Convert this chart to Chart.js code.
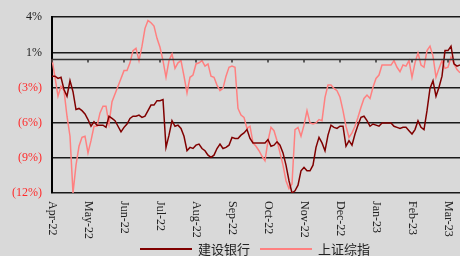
<!DOCTYPE html>
<html>
<head>
<meta charset="utf-8">
<script src="https://cdn.jsdelivr.net/npm/chart.js@4.4.1/dist/chart.umd.min.js"></script>
<style>
    html, body { margin: 0; padding: 0; background: #d9d9d9; }
    #wrap { width: 460px; height: 256px; position: relative; }
</style>
</head>
<body>
<div id="wrap"><canvas id="chart"></canvas></div>
<script>
// month labels, one every 12 points
const monthLabels = ['Apr-22', 'May-22', 'Jun-22', 'Jul-22', 'Aug-22', 'Sep-22', 'Oct-22', 'Nov-22', 'Dec-22', 'Jan-23', 'Feb-23', 'Mar-23'];
const pointsPerMonth = 12;

const seriesNames = ['建设银行', '上证综指'];

// 建设银行, % change
const ccbValues = [
    -1.5, -1.5, -1.7, -1.6, -2.7, -3.3, -1.9, -2.9, -4.5, -4.4, -4.6, -4.9,
    -5.4, -6.0, -5.6, -5.9, -5.9, -5.9, -6.1, -5.1, -5.3, -5.5, -6.0, -6.5,
    -6.1, -5.8, -5.3, -5.1, -5.1, -5.0, -5.2, -5.1, -4.6, -4.1, -4.1, -3.7,
    -3.7, -3.6, -7.9, -6.8, -5.5, -6.0, -5.9, -6.2, -6.9, -8.2, -7.9, -8.0,
    -7.7, -7.6, -8.0, -8.2, -8.6, -8.8, -8.6, -8.0, -7.6, -8.0, -7.9, -7.7,
    -7.0, -7.1, -7.1, -6.8, -6.6, -6.3, -7.1, -7.5, -7.5, -7.5, -7.5, -7.5,
    -7.2, -7.8, -7.7, -7.4, -7.7, -8.4, -9.5, -10.9, -12.0, -11.8, -11.3, -10.0,
    -9.7, -10.0, -10.0, -9.5, -7.9, -7.0, -7.5, -8.2, -6.8, -5.9, -6.1, -6.2,
    -6.0, -6.0, -7.8, -7.3, -7.7, -6.7, -5.9, -5.2, -5.1, -5.5, -6.0, -5.8,
    -5.9, -6.0, -5.7, -5.7, -5.7, -5.7, -6.0, -6.1, -6.2, -6.1, -6.1, -6.4,
    -6.7, -6.3, -5.5, -6.1, -6.3, -4.6, -2.6, -1.9, -3.3, -2.5, -1.5, 0.8,
    0.8, 1.2, -0.4, -0.6, -0.5
];

// 上证综指, % change
const sseValues = [
    0.0, -1.6, -3.3, -2.4, -2.8, -5.1, -6.9, -12.0, -9.5, -7.8, -7.0, -6.9,
    -8.4, -7.3, -6.0, -6.0, -4.8, -4.2, -4.2, -5.8, -3.8, -3.1, -2.4, -1.7,
    -1.0, -1.0, -0.3, 0.8, 1.0, -0.1, 1.2, 2.8, 3.5, 3.3, 3.0, 1.9,
    1.1, -0.1, -1.6, -0.1, 0.5, -0.8, -0.3, -0.1, -1.5, -3.0, -1.6, -1.4,
    -0.4, -0.3, -0.1, -0.6, -0.4, -1.5, -1.6, -2.3, -2.8, -2.6, -1.5, -0.7,
    -0.6, -0.7, -4.4, -5.0, -5.2, -6.2, -6.0, -7.5, -7.8, -8.2, -8.7, -9.1,
    -7.3, -6.1, -6.4, -7.3, -8.4, -9.5, -10.9, -11.6, -11.2, -6.3, -6.1, -6.9,
    -5.9, -4.6, -5.7, -5.8, -5.7, -5.4, -5.5, -3.4, -2.3, -2.3, -2.6, -2.8,
    -3.4, -4.6, -6.0, -7.0, -6.6, -6.0, -5.2, -4.3, -3.5, -3.2, -3.5, -2.5,
    -1.7, -1.4, -0.5, -0.5, -0.5, -0.5, -0.1, -0.7, -1.1, -0.5, -0.6, -0.1,
    -1.6, -0.3, 0.6, -0.5, -0.7, 0.8, 1.2, 0.3, -1.6, -0.8, -0.1, -0.8,
    -0.7, 0.2, -0.4, -0.9, -1.2
];

// y ticks as printed on the axis
const yTickValues = [-12, -8.84, -5.68, -2.52, 0.64, 3.8];
const yTickLabels = ['(12%)', '(9%)', '(6%)', '(3%)', '1%', '4%'];

const categories = ccbValues.map((v, i) => i % pointsPerMonth === 0 ? monthLabels[i / pointsPerMonth] : '');

const serif = "'Liberation Serif', 'DejaVu Serif', serif";
const cjk = "'Noto Sans CJK SC', sans-serif";
const colors = ['#800000', '#ff8080'];

// zero line with month ticks, rotated month labels, legend
const extras = {
    id: 'extras',
    afterDatasetsDraw(chart) {
        const ctx = chart.ctx;
        const x = chart.scales.x, y = chart.scales.y;
        const area = chart.chartArea;
        const y0 = y.getPixelForValue(0);
        ctx.save();
        ctx.strokeStyle = '#333';
        ctx.lineWidth = 1.5;
        ctx.beginPath();
        ctx.moveTo(area.left, y0);
        ctx.lineTo(area.right, y0);
        monthLabels.forEach((m, k) => {
            const px = x.getPixelForValue(k * pointsPerMonth);
            ctx.moveTo(px, y0);
            ctx.lineTo(px, y0 + 3);
        });
        ctx.stroke();
        ctx.restore();
    },
    afterDraw(chart) {
        const ctx = chart.ctx;
        const x = chart.scales.x;
        ctx.save();
        ctx.fillStyle = '#222';
        ctx.font = '12px ' + serif;
        ctx.textAlign = 'left';
        ctx.textBaseline = 'middle';
        monthLabels.forEach((m, k) => {
            const px = x.getPixelForValue(k * pointsPerMonth);
            ctx.save();
            ctx.translate(px, 201);
            ctx.rotate(Math.PI / 2);
            ctx.fillText(m, 0, 0);
            ctx.restore();
        });

        // legend
        ctx.font = '13px ' + cjk;
        let lx = 140;
        const ly = 249;
        seriesNames.forEach((name, i) => {
            ctx.strokeStyle = colors[i];
            ctx.lineWidth = 2;
            ctx.beginPath();
            ctx.moveTo(lx, ly);
            ctx.lineTo(lx + 52, ly);
            ctx.stroke();
            ctx.fillStyle = '#222';
            ctx.fillText(name, lx + 58, ly);
            lx += 58 + ctx.measureText(name).width + 10;
        });
        ctx.restore();
    }
};

new Chart(document.getElementById('chart'), {
    type: 'line',
    data: {
        labels: categories,
        datasets: [
            { label: seriesNames[0], data: ccbValues, borderColor: colors[0], borderWidth: 1.5 },
            { label: seriesNames[1], data: sseValues, borderColor: colors[1], borderWidth: 1.5 }
        ]
    },
    options: {
        responsive: true,
        maintainAspectRatio: false,
        animation: false,
        layout: { padding: { top: 17, right: 0, left: 0, bottom: 0 } },
        elements: { point: { radius: 0 }, line: { tension: 0 } },
        plugins: { legend: { display: false }, tooltip: { enabled: false } },
        scales: {
            x: {
                offset: false,
                grid: { display: false },
                border: { display: false },
                ticks: { display: false },
                afterFit: s => { s.height = 63; }
            },
            y: {
                min: -12,
                max: 3.8,
                afterBuildTicks: s => { s.ticks = yTickValues.map(v => ({ value: v })); },
                afterFit: s => { s.width = 52; },
                grid: { color: '#1a1a1a', lineWidth: 1.5, drawTicks: false },
                border: { color: '#000', width: 2 },
                ticks: {
                    padding: 10,
                    font: { family: serif, size: 12 },
                    color: ctx => yTickValues.indexOf(ctx.tick.value) < 4 ? '#ff2a2a' : '#222',
                    callback: (v, i) => yTickLabels[i]
                }
            }
        }
    },
    plugins: [extras]
});
</script>
</body>
</html>
